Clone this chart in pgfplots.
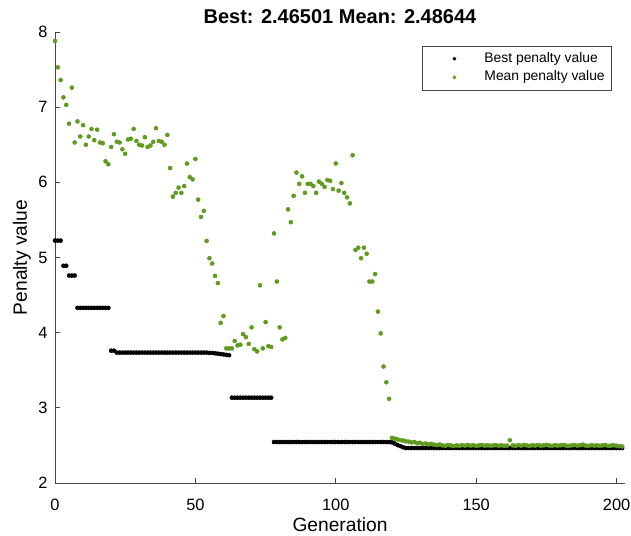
\documentclass[border=0pt]{standalone}
\usepackage{fontspec}
\setmainfont{Liberation Sans}
\usepackage{pgfplots}
\pgfplotsset{compat=1.18}
\definecolor{meangreen}{RGB}{95,155,30}
\definecolor{axgray}{RGB}{70,70,70}

\begin{document}
\begin{tikzpicture}
\begin{axis}[
    scale only axis,
    width=427.5pt, height=338.25pt,
    xmin=0, xmax=203, ymin=2, ymax=8,
    axis lines=left,
    axis line style={-, axgray, line width=0.7pt},
    every tick/.style={axgray, line width=0.7pt},
    tick align=inside, major tick length=4pt,
    xtick={0,50,100,150,200}, ytick={2,3,4,5,6,7,8},
    /pgf/number format/assume math mode=true,
    tick label style={font=\fontsize{12.3}{14}\selectfont},
    xticklabel style={yshift=-8.5pt},
    yticklabel style={xshift=-2pt},
    title={\bfseries Best: 2.46501 Mean: 2.48644},
    every axis title shift=0pt,
    title style={at={(axis description cs:0.5,1)}, anchor=base, yshift=6pt,
        font=\fontsize{15}{18}\selectfont},
    xlabel={Generation}, ylabel={Penalty value},
    xlabel style={at={(axis description cs:0.5,-0.093)}, anchor=center,
        font=\fontsize{14.4}{17}\selectfont},
    ylabel style={at={(axis description cs:-0.058,0.5)}, anchor=center,
        font=\fontsize{14.4}{17}\selectfont},
    clip=false,
    legend cell align=left,
    legend style={at={(axis description cs:1,1)}, anchor=north east,
        xshift=-9.75pt, yshift=-10.5pt, draw=axgray, fill=white,
        inner xsep=0pt, inner ysep=4.35pt, row sep=4pt,
        font=\fontsize{10.4}{12}\selectfont,
        nodes={inner sep=0pt, text height=7.5pt, text depth=2.5pt}},
    legend image code/.code={
        \path[draw=none, fill=none] (-24pt,0pt) rectangle (22.5pt,0.1pt);
        \draw[#1, mark size=1.2pt] plot coordinates {(0pt,0pt)};},
]
% best penalty per generation
\addplot[only marks, mark=*, mark size=1.5pt, black] table {
x y
0 5.225
1 5.225
2 5.225
3 4.89
4 4.89
5 4.76
6 4.76
7 4.76
8 4.33
9 4.33
10 4.33
11 4.33
12 4.33
13 4.33
14 4.33
15 4.33
16 4.33
17 4.33
18 4.33
19 4.33
20 3.76
21 3.76
22 3.735
23 3.735
24 3.735
25 3.735
26 3.735
27 3.735
28 3.735
29 3.735
30 3.735
31 3.735
32 3.735
33 3.735
34 3.735
35 3.735
36 3.735
37 3.735
38 3.735
39 3.735
40 3.735
41 3.735
42 3.735
43 3.735
44 3.735
45 3.735
46 3.735
47 3.735
48 3.735
49 3.735
50 3.735
51 3.735
52 3.735
53 3.735
54 3.735
55 3.73
56 3.73
57 3.725
58 3.72
59 3.715
60 3.71
61 3.705
62 3.70
63 3.135
64 3.135
65 3.135
66 3.135
67 3.135
68 3.135
69 3.135
70 3.135
71 3.135
72 3.135
73 3.135
74 3.135
75 3.135
76 3.135
77 3.135
78 2.545
79 2.545
80 2.545
81 2.545
82 2.545
83 2.545
84 2.545
85 2.545
86 2.545
87 2.545
88 2.545
89 2.545
90 2.545
91 2.545
92 2.545
93 2.545
94 2.545
95 2.545
96 2.545
97 2.545
98 2.545
99 2.545
100 2.545
101 2.545
102 2.545
103 2.545
104 2.545
105 2.545
106 2.545
107 2.545
108 2.545
109 2.545
110 2.545
111 2.545
112 2.545
113 2.545
114 2.545
115 2.545
116 2.545
117 2.545
118 2.545
119 2.545
120 2.54
121 2.525
122 2.505
123 2.49
124 2.475
125 2.465
126 2.465
127 2.465
128 2.465
129 2.465
130 2.465
131 2.465
132 2.465
133 2.465
134 2.465
135 2.465
136 2.465
137 2.465
138 2.465
139 2.465
140 2.465
141 2.465
142 2.465
143 2.465
144 2.465
145 2.465
146 2.465
147 2.465
148 2.465
149 2.465
150 2.465
151 2.465
152 2.465
153 2.465
154 2.465
155 2.465
156 2.465
157 2.465
158 2.465
159 2.465
160 2.465
161 2.465
162 2.465
163 2.465
164 2.465
165 2.465
166 2.465
167 2.465
168 2.465
169 2.465
170 2.465
171 2.465
172 2.465
173 2.465
174 2.465
175 2.465
176 2.465
177 2.465
178 2.465
179 2.465
180 2.465
181 2.465
182 2.465
183 2.465
184 2.465
185 2.465
186 2.465
187 2.465
188 2.465
189 2.465
190 2.465
191 2.465
192 2.465
193 2.465
194 2.465
195 2.465
196 2.465
197 2.465
198 2.465
199 2.465
200 2.465
201 2.465
202 2.465
};
\addlegendentry{Best penalty value}
% mean penalty per generation
\addplot[only marks, mark=*, mark size=1.5pt, meangreen] table {
x y
0 7.88
1 7.53
2 7.36
3 7.13
4 7.03
5 6.78
6 7.26
7 6.53
8 6.81
9 6.61
10 6.76
11 6.50
12 6.61
13 6.71
14 6.56
15 6.70
16 6.53
17 6.52
18 6.28
19 6.24
20 6.47
21 6.64
22 6.54
23 6.53
24 6.44
25 6.38
26 6.57
27 6.58
28 6.71
29 6.55
30 6.50
31 6.49
32 6.60
33 6.47
34 6.49
35 6.54
36 6.72
37 6.55
38 6.54
39 6.50
40 6.63
41 6.19
42 5.81
43 5.86
44 5.93
45 5.86
46 5.95
47 6.25
48 6.07
49 6.04
50 6.31
51 5.77
52 5.54
53 5.62
54 5.22
55 4.99
56 4.92
57 4.755
58 4.66
59 4.13
60 4.22
61 3.79
62 3.79
63 3.79
64 3.89
65 3.83
66 3.84
67 3.98
68 3.94
69 3.85
70 4.07
71 3.78
72 3.75
73 4.63
74 3.79
75 4.14
76 3.82
77 3.81
78 5.32
79 4.68
80 4.07
81 3.91
82 3.93
83 5.64
84 5.47
85 5.82
86 6.13
87 5.98
88 6.08
89 5.86
90 5.98
91 5.98
92 5.95
93 5.86
94 6.01
95 5.98
96 5.94
97 6.03
98 6.02
99 5.91
100 6.25
101 5.89
102 5.99
103 5.86
104 5.80
105 5.72
106 6.36
107 5.10
108 5.13
109 4.99
110 5.13
111 5.05
112 4.68
113 4.68
114 4.78
115 4.28
116 3.99
117 3.55
118 3.34
119 3.12
120 2.600
121 2.590
122 2.580
123 2.570
124 2.565
125 2.555
126 2.550
127 2.540
128 2.545
129 2.530
130 2.535
131 2.520
132 2.525
133 2.515
134 2.520
135 2.510
136 2.505
137 2.512
138 2.500
139 2.495
140 2.505
141 2.500
142 2.492
143 2.500
144 2.495
145 2.503
146 2.497
147 2.505
148 2.498
149 2.502
150 2.494
151 2.500
152 2.506
153 2.497
154 2.502
155 2.495
156 2.500
157 2.504
158 2.496
159 2.501
160 2.495
161 2.498
162 2.570
163 2.500
164 2.495
165 2.503
166 2.497
167 2.506
168 2.500
169 2.494
170 2.502
171 2.498
172 2.505
173 2.496
174 2.500
175 2.507
176 2.499
177 2.494
178 2.503
179 2.497
180 2.501
181 2.506
182 2.498
183 2.493
184 2.500
185 2.505
186 2.497
187 2.502
188 2.510
189 2.498
190 2.494
191 2.503
192 2.497
193 2.501
194 2.495
195 2.500
196 2.505
197 2.493
198 2.498
199 2.502
200 2.495
201 2.490
202 2.486
};
\addlegendentry{Mean penalty value\hspace*{5.25pt}}
\coordinate (sw) at (rel axis cs:0,0);
\coordinate (ne) at (rel axis cs:1,1);
\end{axis}
\pgfresetboundingbox
\path[use as bounding box] ([shift={(-41.25pt,-39.75pt)}]sw) rectangle ([shift={(4.5pt,24pt)}]ne);
\end{tikzpicture}
\end{document}
